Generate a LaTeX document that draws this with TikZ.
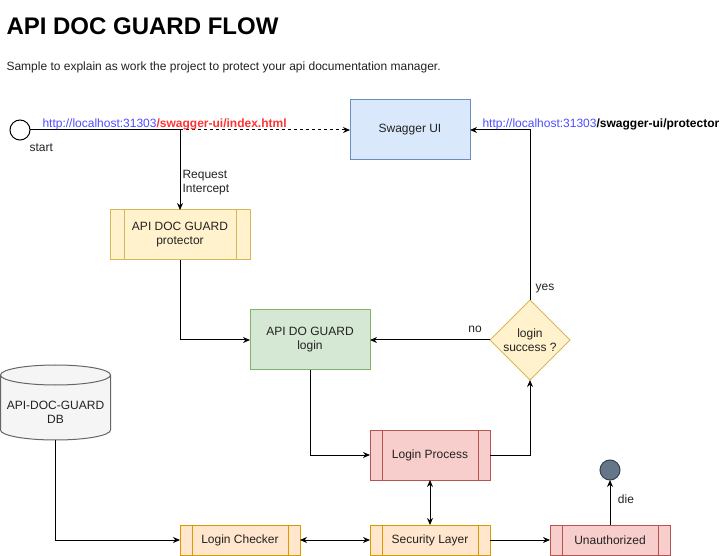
\documentclass[tikz,border=0pt]{standalone}
\usepackage{fontspec}
\setmainfont{Liberation Sans}
\usetikzlibrary{arrows.meta,shapes.geometric}

\definecolor{bluefill}{HTML}{DAE8FC}
\definecolor{blueline}{HTML}{6C8EBF}
\definecolor{yelfill}{HTML}{FFF2CC}
\definecolor{yelline}{HTML}{D6B656}
\definecolor{grnfill}{HTML}{D5E8D4}
\definecolor{grnline}{HTML}{82B366}
\definecolor{redfill}{HTML}{F8CECC}
\definecolor{redline}{HTML}{B85450}
\definecolor{orgfill}{HTML}{FFE6CC}
\definecolor{orgline}{HTML}{D79B00}
\definecolor{dbfill}{HTML}{F5F5F5}
\definecolor{dbline}{HTML}{666666}
\definecolor{endfill}{HTML}{647687}
\definecolor{endline}{HTML}{314354}
\definecolor{urlblue}{HTML}{4D4DFF}
\definecolor{urlred}{HTML}{FF3333}
\definecolor{txt}{HTML}{222222}

\begin{document}
\begin{tikzpicture}[x=1pt, y=-1pt, line width=1pt, font=\fontsize{12}{14}\selectfont,
  arr/.style={-{Stealth[length=7pt,width=6pt]}},
  dbl/.style={{Stealth[length=7pt,width=6pt]}-{Stealth[length=7pt,width=6pt]}},
  box/.style={draw, rectangle, inner sep=0pt, outer sep=0pt, minimum width=120pt, align=center, text=txt},
  lbl/.style={inner sep=0pt, text=txt}]

\useasboundingbox (0,0) rectangle (721,556);

\node[lbl, anchor=base west, font=\fontsize{24}{28}\selectfont\bfseries, text=black] (title) at (6,35) {API DOC GUARD FLOW};
\node[lbl, anchor=base west] (sub) at (6,71) {Sample to explain as work the project to protect your api documentation manager.};

\node[draw, circle, minimum size=20pt, inner sep=0pt, outer sep=0pt] (st) at (20,130) {};
\node[lbl, anchor=west] (stlbl) at (29,148) {start};
\coordinate (split) at (180,130);

\node[box, fill=bluefill, draw=blueline, minimum height=60pt] (sw) at (410,130) {Swagger UI};
\node[box, fill=yelfill, draw=yelline, minimum width=140pt, minimum height=50pt] (prot) at (180,235) {API DOC GUARD\\protector};
\node[box, fill=grnfill, draw=grnline, minimum height=60pt] (login) at (310,340) {API DO GUARD\\login};
\node[draw=yelline, fill=yelfill, diamond, minimum width=80pt, minimum height=80pt, inner sep=0pt, outer sep=0pt] (dec) at (530,340) {};
\node[lbl, align=center] (declbl) at (dec) {login\\success ?};
\node[box, fill=redfill, draw=redline, minimum height=50pt] (lp) at (430,455) {Login Process};
\node[box, fill=orgfill, draw=orgline, minimum height=30pt] (chk) at (240,540) {Login Checker};
\node[box, fill=orgfill, draw=orgline, minimum height=30pt] (sec) at (430,540) {Security Layer};
\node[box, fill=redfill, draw=redline, minimum height=30pt] (una) at (610,540) {Unauthorized};
\node[draw=endline, fill=endfill, circle, minimum size=20pt, inner sep=0pt, outer sep=0pt] (end) at (610,470) {};

\foreach \n/\d/\c in {prot/14/yelline, lp/12/redline, chk/12/orgline, sec/12/orgline, una/12/redline}
{
  \draw[\c] ([xshift=\d pt]\n.north west) -- ([xshift=\d pt]\n.south west);
  \draw[\c] ([xshift=-\d pt]\n.north east) -- ([xshift=-\d pt]\n.south east);
}

\draw[draw=dbline, fill=dbfill] (0.5,375) -- (0.5,430)
  arc[start angle=180, end angle=360, x radius=55pt, y radius=10pt]
  -- (110.5,375)
  arc[start angle=0, end angle=180, x radius=55pt, y radius=10pt] -- cycle;
\draw[draw=dbline] (0.5,375) arc[start angle=180, end angle=360, x radius=55pt, y radius=10pt];
\node[lbl, align=center] (db) at (55.5,412) {API-DOC-GUARD\\DB};
\coordinate (dbbot) at (55.5,440);

\draw (st) -- (split);
\draw[arr, dash pattern=on 3pt off 3pt] (split) -- (sw.west);
\node[lbl, anchor=base west] (url1) at (42,128) {\textcolor{urlblue}{http://localhost:31303}\textcolor{urlred}{\bfseries /swagger-ui/index.html}};
\draw[arr] (split) -- (prot.north);
\node[lbl, anchor=north west, align=left] (req) at (182,170) {Request\\Intercept};
\draw[arr] (prot.south) |- (login.west);
\draw[arr] (dec.west) -- (login.east);
\node[lbl] (no) at (475,329) {no};
\draw[arr] (dec.north) |- (sw.east);
\node[lbl] (yes) at (545,289) {yes};
\node[lbl, anchor=base west] (url2) at (482,128) {\textcolor{urlblue}{http://localhost:31303}\textcolor{black}{\bfseries /swagger-ui/protector}};
\draw[arr] (login.south) |- (lp.west);
\draw[arr] (lp.east) -| (dec.south);
\draw[dbl] (lp.south) -- (sec.north);
\draw[dbl] (chk.east) -- (sec.west);
\draw[arr] (sec.east) -- (una.west);
\draw[arr] (una.north) -- (end.south);
\node[lbl] (die) at (626,499) {die};
\draw[arr] (dbbot) |- (chk.west);

\end{tikzpicture}
\end{document}
